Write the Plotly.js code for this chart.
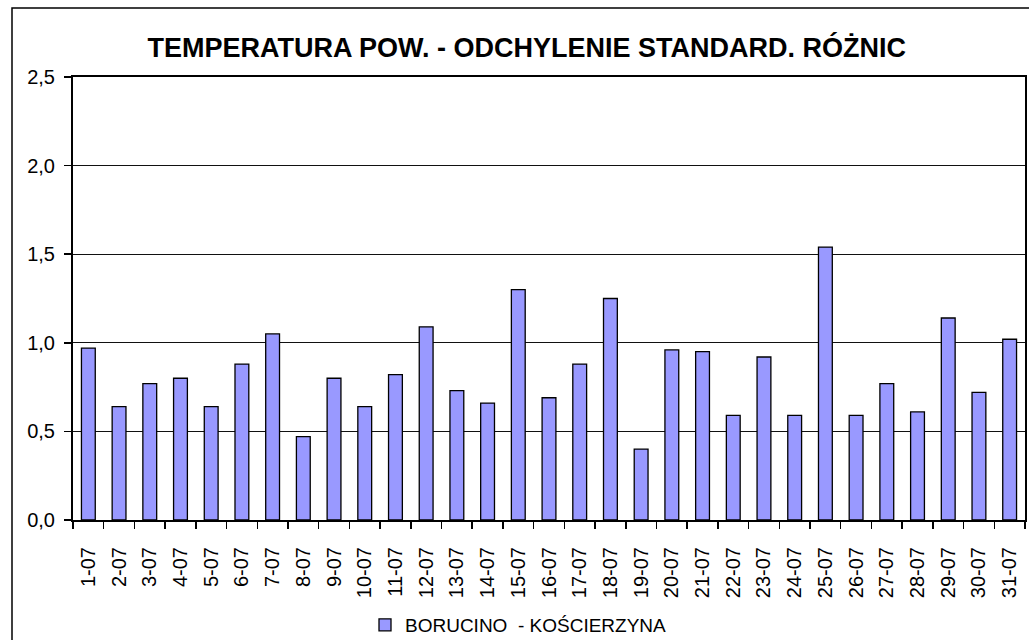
<!DOCTYPE html>
<html>
<head>
<meta charset="utf-8">
<script src="https://cdn.plot.ly/plotly-3.0.1.min.js"></script>
<style>html,body{margin:0;padding:0;background:#fff;}#chart{width:1029px;height:640px;}</style>
</head>
<body>
<div id="chart"></div>
<script>
const days = ["1-07","2-07","3-07","4-07","5-07","6-07","7-07","8-07","9-07","10-07","11-07","12-07","13-07","14-07","15-07","16-07","17-07","18-07","19-07","20-07","21-07","22-07","23-07","24-07","25-07","26-07","27-07","28-07","29-07","30-07","31-07"];
const stdDiff = [0.97,0.64,0.77,0.80,0.64,0.88,1.05,0.47,0.80,0.64,0.82,1.09,0.73,0.66,1.30,0.69,0.88,1.25,0.40,0.96,0.95,0.59,0.92,0.59,1.54,0.59,0.77,0.61,1.14,0.72,1.02];
const seriesName = "BORUCINO  - KOŚCIERZYNA";
const yTicks = [0,0.5,1.0,1.5,2.0,2.5];
const titleText = "TEMPERATURA POW. - ODCHYLENIE STANDARD. RÓŻNIC";

const FONT = "Liberation Sans, Arial, sans-serif";
const W = 1029, H = 640;
const L = 73, R = 1025, T = 77, B = 520;
const px2x = p => (p - L) / (R - L);
const px2y = p => (B - p) / (B - T);

const data = [{
  type: "bar",
  x: days,
  y: stdDiff,
  name: seriesName,
  marker: {color: "#9999FF", line: {color: "#000000", width: 1.3}},
  hoverinfo: "x+y"
}];

const layout = {
  width: W, height: H,
  margin: {l: L, r: W - R, t: T, b: H - B, pad: 0},
  paper_bgcolor: "#ffffff",
  plot_bgcolor: "#ffffff",
  separators: ", ",
  font: {family: FONT, color: "#000000", size: 20},
  bargap: 0.55,
  showlegend: true,
  title: {
    text: "<b>" + titleText + "</b>",
    font: {family: FONT, size: 27, color: "#000000"},
    x: 0.512, xanchor: "center",
    y: 1 - 48/H, yanchor: "middle", yref: "container"
  },
  xaxis: {
    type: "category",
    tickangle: -90,
    ticks: "outside", ticklen: 7, tickwidth: 1.5, tickcolor: "#000",
    tickson: "boundaries",
    showline: true, linecolor: "#000", linewidth: 2, mirror: true,
    showgrid: false,
    tickfont: {family: FONT, size: 20, color: "#000"},
    ticklabelstandoff: 17,
    automargin: false
  },
  yaxis: {
    range: [0, 2.5],
    tickvals: yTicks,
    tickformat: ".1f",
    ticks: "outside", ticklen: 7, tickwidth: 1.5, tickcolor: "#000",
    showline: true, linecolor: "#000", linewidth: 2, mirror: true,
    showgrid: true, gridcolor: "#111", gridwidth: 1.2,
    zeroline: false,
    tickfont: {family: FONT, size: 20, color: "#000"},
    ticklabelstandoff: 5,
    automargin: false
  },
  legend: {
    orientation: "h",
    xref: "container", yref: "container",
    x: 365 / W, xanchor: "left",
    y: 1 - 625 / H, yanchor: "middle",
    font: {family: FONT, size: 19, color: "#000"},
    bgcolor: "rgba(0,0,0,0)",
    itemwidth: 30
  },
  shapes: [{
    type: "rect", xref: "paper", yref: "paper",
    x0: px2x(12), x1: px2x(1040), y0: px2y(650), y1: px2y(8),
    line: {color: "#000", width: 1.5}, fillcolor: "rgba(0,0,0,0)", layer: "below"
  }]
};

Plotly.newPlot("chart", data, layout, {displayModeBar: false, staticPlot: true});
</script>
</body>
</html>
